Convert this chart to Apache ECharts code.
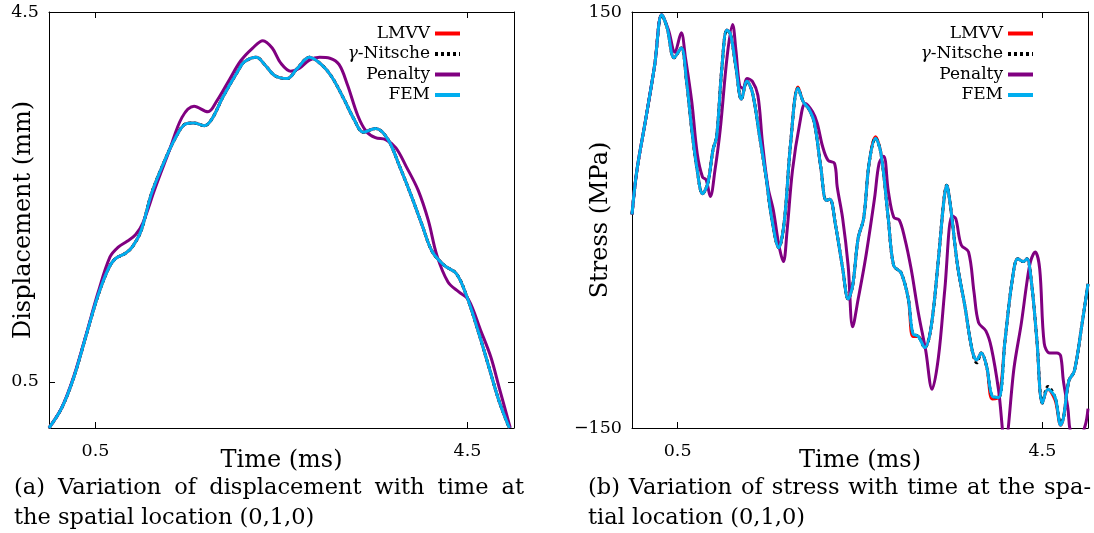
<!DOCTYPE html>
<html><head><meta charset="utf-8">
<script src="https://cdn.jsdelivr.net/npm/echarts@6/dist/echarts.min.js"></script>
<style>html,body{margin:0;padding:0;background:#fff}#c{width:1094px;height:533px}</style>
</head><body><div id="c"></div><script>
// ---------- DATA ----------
const seriesNames = ['LMVV', 'γ-Nitsche', 'Penalty', 'FEM'];
const xTickValues = [0.5, 4.5];
const dispTickValues = [0.5, 4.5];
const stressTickValues = [-150, 150];

// (a) displacement (mm) vs time (ms)
const dispTimeFEM = [0,0.137,0.267,0.396,0.526,0.637,0.711,0.822,0.896,0.989,1.1,1.23,1.36,1.47,1.56,1.67,1.75,1.87,2.03,2.10,2.23,2.32,2.43,2.56,2.67,2.80,2.93,3.04,3.17,3.28,3.38,3.51,3.64,3.77,3.90,4.01,4.12,4.25,4.38,4.49,4.62,4.73,4.84,4.95];
const dispFEM     = [0,0.217,0.55,0.99,1.43,1.72,1.83,1.89,1.96,2.13,2.53,2.86,3.14,3.29,3.30,3.27,3.34,3.58,3.86,3.96,4.01,3.93,3.81,3.78,3.89,4.01,3.93,3.80,3.56,3.34,3.20,3.24,3.13,2.83,2.50,2.20,1.91,1.76,1.67,1.43,1.03,0.66,0.29,0];
const dispLMVV    = [0,0.217,0.55,0.99,1.43,1.72,1.83,1.89,1.96,2.13,2.53,2.86,3.14,3.29,3.30,3.27,3.34,3.58,3.86,3.96,4.01,3.93,3.81,3.78,3.89,4.01,3.93,3.80,3.56,3.34,3.20,3.24,3.13,2.83,2.50,2.20,1.91,1.76,1.67,1.43,1.03,0.66,0.29,0];
const dispNitsche = [0,0.217,0.55,0.99,1.43,1.72,1.83,1.89,1.96,2.13,2.53,2.86,3.14,3.29,3.30,3.27,3.34,3.58,3.86,3.96,4.01,3.93,3.81,3.78,3.89,4.01,3.93,3.80,3.56,3.34,3.20,3.24,3.13,2.83,2.50,2.20,1.91,1.76,1.67,1.43,1.03,0.66,0.29,0];
const dispTimePenalty = [0,0.137,0.267,0.396,0.526,0.656,0.748,0.84,0.93,1.01,1.14,1.29,1.43,1.56,1.71,1.80,1.93,2.06,2.19,2.30,2.40,2.49,2.60,2.69,2.80,2.91,3.02,3.12,3.21,3.32,3.41,3.51,3.62,3.73,3.84,3.97,4.08,4.17,4.29,4.41,4.51,4.64,4.75,4.84,4.96];
const dispPenalty     = [0,0.22,0.56,1.0,1.46,1.85,1.96,2.02,2.09,2.22,2.59,2.99,3.36,3.48,3.42,3.53,3.75,3.97,4.11,4.19,4.11,3.95,3.86,3.89,3.98,4.01,4.00,3.93,3.71,3.38,3.21,3.14,3.12,3.03,2.83,2.57,2.24,1.87,1.58,1.47,1.39,1.06,0.77,0.44,0];

// (b) stress (MPa) vs time (ms)
const stressTimeFEM = [0,0.054,0.151,0.249,0.326,0.384,0.462,0.54,0.598,0.656,0.715,0.773,0.83,0.889,0.928,0.986,1.04,1.08,1.14,1.20,1.26,1.32,1.40,1.47,1.53,1.61,1.67,1.74,1.82,1.88,1.94,2.0,2.07,2.13,2.17,2.23,2.31,2.37,2.42,2.48,2.54,2.60,2.67,2.73,2.81,2.87,2.95,3.03,3.08,3.14,3.21,3.28,3.36,3.42,3.45,3.49,3.57,3.65,3.73,3.78,3.83,3.89,3.95,4.02,4.09,4.17,4.23,4.29,4.33,4.38,4.44,4.50,4.56,4.64,4.70,4.73,4.79,4.85,4.93,5.0];
const stressFEM     = [4,36,73,112,148,139,117,124,100,65,36,19,26,51,60,110,137,134,110,87,100,92,60,31,2,-20,-1,56,95,85,80,70,38,14,15,-3,-35,-57,-47,-13,1,41,59,48,1,-33,-38,-57,-82,-84,-92,-77,-28,14,25,11,-33,-62,-94,-101,-96,-106,-127,-128,-87,-43,-28,-30,-28,-45,-87,-132,-122,-128,-148,-143,-116,-109,-77,-46];
const stressLMVV    = [4,36,73,112,148,139,117,124,100,65,36,19,26,51,60,110,137,134,110,87,100,92,60,31,2,-20,-1,56,96,85,80,70,38,14,15,-3,-35,-57,-47,-13,1,41,60,48,1,-33,-38,-57,-84,-84,-92,-77,-28,14,25,11,-33,-62,-94,-101,-96,-106,-129,-128,-87,-43,-28,-30,-28,-45,-87,-132,-122,-130,-148,-143,-116,-109,-77,-46];
const stressNitsche = [4,36,73,112,148,139,117,124,100,65,36,19,26,51,60,110,137,134,110,87,100,92,60,31,2,-20,-1,56,95,85,80,70,38,14,15,-3,-35,-57,-47,-13,1,41,59,48,1,-33,-38,-57,-82,-84,-92,-77,-28,15,25,11,-33,-62,-94,-103,-96,-106,-127,-128,-87,-43,-28,-30,-28,-45,-87,-132,-120,-128,-146,-143,-116,-109,-77,-46];
const stressTimePenalty = [0,0.054,0.151,0.249,0.326,0.40,0.47,0.54,0.586,0.656,0.715,0.773,0.812,0.859,0.91,0.967,1.045,1.103,1.14,1.18,1.22,1.26,1.32,1.38,1.43,1.49,1.55,1.61,1.66,1.70,1.76,1.84,1.90,1.98,2.03,2.09,2.15,2.22,2.25,2.31,2.37,2.42,2.48,2.56,2.66,2.71,2.76,2.81,2.87,2.93,2.99,3.06,3.14,3.22,3.29,3.36,3.43,3.51,3.55,3.61,3.69,3.75,3.80,3.88,3.94,4.02,4.09,4.19,4.27,4.33,4.37,4.42,4.47,4.52,4.58,4.66,4.70,4.73,4.78,4.81,4.89,4.97,5.0];
const stressPenalty     = [4,36,73,112,148,137,121,135,117,85,48,31,29,17,36,65,119,141,122,97,95,102,100,90,56,24,7,-18,-30,-8,36,70,84,78,70,53,43,41,24,1,-33,-77,-57,-28,16,41,46,21,2,0,-13,-35,-67,-94,-122,-99,-50,3,1,-18,-23,-52,-74,-80,-92,-123,-162,-106,-74,-45,-30,-23,-35,-89,-96,-96,-98,-116,-136,-153,-160,-148,-136];

// ---------- STYLE ----------
const FONT = '"DejaVu Serif", serif';
const COLORS = ['#ff0000', '#000000', '#800080', '#00aeef'];
const LINE_TYPES = ['solid', [3, 3], 'solid', 'solid'];
const zip = (t, v) => t.map((x, i) => [x, v[i]]);

const chart = echarts.init(document.getElementById('c'), null, {renderer: 'canvas'});

function xAxes(gi) {
  return [
    {
      gridIndex: gi, type: 'value', min: 0, max: 5, position: 'bottom',
      axisLine: {show: true, onZero: false, lineStyle: {color: '#000', width: 1}},
      axisTick: {show: true, inside: true, length: 6, customValues: xTickValues, lineStyle: {color: '#000'}},
      axisLabel: {show: true, customValues: xTickValues, margin: 14, fontSize: 17.5, color: '#000', fontFamily: FONT},
      splitLine: {show: false},
      name: 'Time (ms)', nameLocation: 'middle', nameGap: 21, nameMoveOverlap: false,
      nameTextStyle: {fontSize: 24, color: '#000', fontFamily: FONT}
    },
    {
      gridIndex: gi, type: 'value', min: 0, max: 5, position: 'top',
      axisLine: {show: true, onZero: false, lineStyle: {color: '#000', width: 1}},
      axisTick: {show: true, inside: true, length: 6, customValues: xTickValues, lineStyle: {color: '#000'}},
      axisLabel: {show: false}, splitLine: {show: false}
    }
  ];
}
function yAxes(gi, min, max, ticks, name, gap, fmt) {
  return [
    {
      gridIndex: gi, type: 'value', min, max, position: 'left',
      axisLine: {show: true, onZero: false, lineStyle: {color: '#000', width: 1}},
      axisTick: {show: true, inside: true, length: 6, customValues: ticks, lineStyle: {color: '#000'}},
      axisLabel: {show: true, customValues: ticks, margin: 10, fontSize: 17.5, color: '#000', fontFamily: FONT, formatter: fmt},
      splitLine: {show: false},
      name, nameLocation: 'middle', nameGap: gap, nameMoveOverlap: false,
      nameTextStyle: {fontSize: 24, color: '#000', fontFamily: FONT}
    },
    {
      gridIndex: gi, type: 'value', min, max, position: 'right',
      axisLine: {show: true, onZero: false, lineStyle: {color: '#000', width: 1}},
      axisTick: {show: true, inside: true, length: 6, customValues: ticks, lineStyle: {color: '#000'}},
      axisLabel: {show: false}, splitLine: {show: false}
    }
  ];
}

const dispData = [zip(dispTimeFEM, dispLMVV), zip(dispTimeFEM, dispNitsche), zip(dispTimePenalty, dispPenalty), zip(dispTimeFEM, dispFEM)];
const stressData = [zip(stressTimeFEM, stressLMVV), zip(stressTimeFEM, stressNitsche), zip(stressTimePenalty, stressPenalty), zip(stressTimeFEM, stressFEM)];

const series = [];
[dispData, stressData].forEach((set, gi) => {
  set.forEach((d, i) => {
    series.push({
      name: seriesNames[i], type: 'line', data: d,
      xAxisIndex: gi * 2, yAxisIndex: gi * 2,
      symbol: 'none', smooth: 0.35, clip: true,
      color: COLORS[i],
      lineStyle: {color: COLORS[i], width: 3, type: LINE_TYPES[i]},
      z: 2 + i, animation: false
    });
  });
});

function legend(right) {
  return {
    orient: 'vertical', right, top: 25, align: 'right', padding: 0,
    itemWidth: 25, itemHeight: 14, itemGap: 3.5,
    selectedMode: false,
    data: seriesNames,
    itemStyle: {opacity: 0},
    lineStyle: {width: 4},
    formatter: n => n === 'γ-Nitsche' ? '{g|γ}-Nitsche' : n,
    textStyle: {fontSize: 17, color: '#000', fontFamily: FONT,
      rich: {g: {fontSize: 17, fontStyle: 'italic', fontFamily: FONT, color: '#000'}}}
  };
}

// captions (justified text)
const CAP_SIZE = 22.5;
const measureCtx = document.createElement('canvas').getContext('2d');
measureCtx.font = CAP_SIZE + 'px ' + FONT;
function captionLine(text, x0, x1, y, justify) {
  const words = text.split(' ');
  const widths = words.map(w => measureCtx.measureText(w).width);
  const total = widths.reduce((a, b) => a + b, 0);
  const gap = justify ? (x1 - x0 - total) / (words.length - 1) : measureCtx.measureText(' ').width;
  let x = x0;
  return words.map((w, i) => {
    const el = {type: 'text', x, y, silent: true,
      style: {text: w, fontSize: CAP_SIZE, fontFamily: FONT, fill: '#000', verticalAlign: 'middle', align: 'left'}};
    x += widths[i] + gap;
    return el;
  });
}
const graphics = [].concat(
  captionLine('(a) Variation of displacement with time at', 14, 524, 488, true),
  captionLine('the spatial location (0,1,0)', 14, 524, 518, false),
  captionLine('(b) Variation of stress with time at the spa-', 588, 1091, 488, true),
  captionLine('tial location (0,1,0)', 588, 1091, 518, false)
);

chart.setOption({
  backgroundColor: '#fff',
  animation: false,
  grid: [
    {left: 49, top: 12, width: 465, height: 416, containLabel: false, outerBoundsMode: 'none'},
    {left: 632, top: 12, width: 456, height: 416, containLabel: false, outerBoundsMode: 'none'}
  ],
  xAxis: [...xAxes(0), ...xAxes(1)],
  yAxis: [
    ...yAxes(0, 0, 4.5, dispTickValues, 'Displacement (mm)', 13, v => String(v)),
    ...yAxes(1, -150, 150, stressTickValues, 'Stress (MPa)', 19, v => v < 0 ? '\u2212' + Math.abs(v) : String(v))
  ],
  legend: [legend(1094 - 462), legend(1094 - 1035)],
  series,
  graphic: graphics
});
</script></body></html>
